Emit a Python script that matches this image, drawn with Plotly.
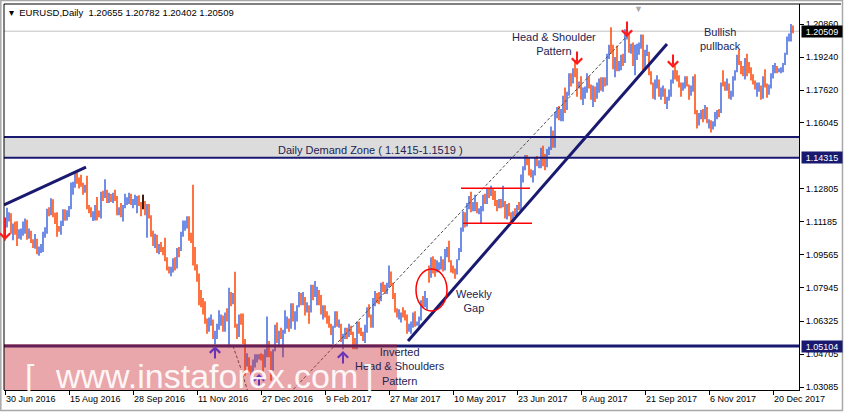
import plotly.graph_objects as go

# EURUSD daily bars, 30 Jun 2016 -> 3 Jan 2018 (one value per trading day)
OPEN = [
    1.1125,
    # Jul 2016
    1.1105, 1.1136, 1.1150, 1.1073, 1.1093, 1.1060, 1.1051, 1.1053, 1.1062, 1.1093, 1.1123, 1.1041, 1.1066, 1.1022, 1.1003, 1.1024, 1.0975, 1.0990, 1.0995, 1.1058, 1.1074,
    # Aug 2016
    1.1174, 1.1160, 1.1225, 1.1150, 1.1130, 1.1085, 1.1080, 1.1110, 1.1175, 1.1135, 1.1160, 1.1185, 1.1290, 1.1295, 1.1355, 1.1325, 1.1320, 1.1305, 1.1265, 1.1285, 1.1195, 1.1185, 1.1145,
    # Sep 2016
    1.1155, 1.1195, 1.1155, 1.1150, 1.1255, 1.1240, 1.1260, 1.1230, 1.1240, 1.1215, 1.1245, 1.1240, 1.1155, 1.1170, 1.1155, 1.1190, 1.1210, 1.1225, 1.1250, 1.1210, 1.1215, 1.1220,
    # Oct 2016
    1.1240, 1.1210, 1.1205, 1.1205, 1.1155, 1.1200, 1.1145, 1.1055, 1.1005, 1.1045, 1.0970, 1.1000, 1.0980, 1.0975, 1.0930, 1.0885, 1.0875, 1.0880, 1.0920, 1.0895, 1.0985,
    # Nov 2016
    1.0980, 1.1055, 1.1100, 1.1105, 1.1140, 1.1045, 1.1025, 1.0910, 1.0895, 1.0855, 1.0735, 1.0720, 1.0690, 1.0630, 1.0590, 1.0625, 1.0630, 1.0550, 1.0560, 1.0590, 1.0615, 1.0650,
    # Dec 2016
    1.0585, 1.0670, 1.0665, 1.0765, 1.0720, 1.0760, 1.0615, 1.0560, 1.0630, 1.0625, 1.0535, 1.0420, 1.0450, 1.0400, 1.0385, 1.0430, 1.0435, 1.0450, 1.0460, 1.0455, 1.0415, 1.0490,
    # Jan 2017
    1.0520, 1.0460, 1.0405, 1.0490, 1.0605, 1.0530, 1.0570, 1.0555, 1.0580, 1.0615, 1.0645, 1.0600, 1.0715, 1.0630, 1.0660, 1.0705, 1.0755, 1.0730, 1.0745, 1.0685, 1.0700, 1.0695,
    # Feb 2017
    1.0800, 1.0765, 1.0780, 1.0785, 1.0750, 1.0680, 1.0700, 1.0665, 1.0640, 1.0600, 1.0575, 1.0605, 1.0675, 1.0610, 1.0615, 1.0540, 1.0560, 1.0590, 1.0560, 1.0605,
    # Mar 2017
    1.0575, 1.0545, 1.0505, 1.0620, 1.0585, 1.0570, 1.0545, 1.0580, 1.0670, 1.0655, 1.0605, 1.0735, 1.0765, 1.0745, 1.0740, 1.0810, 1.0795, 1.0785, 1.0800, 1.0865, 1.0815, 1.0765, 1.0680,
    # Apr 2017
    1.0650, 1.0665, 1.0670, 1.0665, 1.0645, 1.0590, 1.0600, 1.0610, 1.0665, 1.0615, 1.0620, 1.0645, 1.0730, 1.0715, 1.0720, 1.0900, 1.0855, 1.0930, 1.0880, 1.0875,
    # May 2017
    1.0895, 1.0905, 1.0930, 1.0885, 1.0980, 1.1020, 1.0925, 1.0875, 1.0870, 1.0865, 1.0935, 1.0980, 1.1085, 1.1160, 1.1100, 1.1205, 1.1240, 1.1180, 1.1185, 1.1210, 1.1160, 1.1165, 1.1185,
    # Jun 2017
    1.1240, 1.1215, 1.1280, 1.1255, 1.1275, 1.1260, 1.1210, 1.1195, 1.1215, 1.1210, 1.1215, 1.1150, 1.1200, 1.1150, 1.1130, 1.1165, 1.1150, 1.1195, 1.1185, 1.1335, 1.1375, 1.1440,
    # Jul 2017
    1.1425, 1.1365, 1.1350, 1.1355, 1.1425, 1.1395, 1.1400, 1.1465, 1.1410, 1.1395, 1.1470, 1.1480, 1.1555, 1.1515, 1.1635, 1.1665, 1.1640, 1.1645, 1.1730, 1.1675, 1.1750,
    # Aug 2017
    1.1840, 1.1800, 1.1860, 1.1850, 1.1775, 1.1790, 1.1750, 1.1760, 1.1765, 1.1820, 1.1780, 1.1735, 1.1770, 1.1725, 1.1760, 1.1815, 1.1760, 1.1810, 1.1800, 1.1925, 1.1980, 1.1975, 1.1885,
    # Sep 2017
    1.1910, 1.1860, 1.1885, 1.1920, 1.1915, 1.2025, 1.2035, 1.1955, 1.1965, 1.1890, 1.1920, 1.1945, 1.1985, 1.1995, 1.1895, 1.1940, 1.1950, 1.1845, 1.1795, 1.1740, 1.1785,
    # Oct 2017
    1.1810, 1.1735, 1.1740, 1.1765, 1.1710, 1.1730, 1.1735, 1.1810, 1.1855, 1.1825, 1.1820, 1.1795, 1.1765, 1.1790, 1.1815, 1.1785, 1.1755, 1.1760, 1.1815, 1.1655, 1.1605, 1.1635,
    # Nov 2017
    1.1645, 1.1620, 1.1655, 1.1605, 1.1610, 1.1585, 1.1590, 1.1640, 1.1670, 1.1665, 1.1795, 1.1790, 1.1770, 1.1790, 1.1730, 1.1735, 1.1820, 1.1855, 1.1930, 1.1895, 1.1850, 1.1845,
    # Dec 2017
    1.1905, 1.1895, 1.1865, 1.1825, 1.1795, 1.1765, 1.1770, 1.1775, 1.1745, 1.1825, 1.1780, 1.1745, 1.1780, 1.1835, 1.1870, 1.1875, 1.1855, 1.1855, 1.1860, 1.1890, 1.1940,
    # Jan 2018
    1.2005, 1.2010, 1.20655,
]

HIGH = [
    1.1133,
    1.1187, 1.1165, 1.1160, 1.1110, 1.1120, 1.1121, 1.1082, 1.1085, 1.1120, 1.1135, 1.1128, 1.1085, 1.1075, 1.1033, 1.1058, 1.1035, 1.0998, 1.1010, 1.1070, 1.1092, 1.1182,
    1.1190, 1.1234, 1.1228, 1.1162, 1.1165, 1.1098, 1.1123, 1.1180, 1.1180, 1.1175, 1.1195, 1.1310, 1.1314, 1.1366, 1.1360, 1.1335, 1.1348, 1.1309, 1.1300, 1.1343, 1.1200, 1.1190, 1.1170,
    1.1200, 1.1240, 1.1174, 1.1265, 1.1270, 1.1327, 1.1275, 1.1260, 1.1254, 1.1260, 1.1275, 1.1245, 1.1190, 1.1210, 1.1200, 1.1255, 1.1238, 1.1260, 1.1255, 1.1230, 1.1250, 1.1245,
    1.1248, 1.1215, 1.1250, 1.1220, 1.1205, 1.1205, 1.1150, 1.1075, 1.1060, 1.1055, 1.1010, 1.1020, 1.0995, 1.1040, 1.0945, 1.0900, 1.0898, 1.0940, 1.0945, 1.0990, 1.0995,
    1.1070, 1.1125, 1.1125, 1.1145, 1.1145, 1.1065, 1.1300, 1.0995, 1.0910, 1.0865, 1.0785, 1.0745, 1.0730, 1.0645, 1.0650, 1.0665, 1.0640, 1.0585, 1.0620, 1.0685, 1.0665, 1.0660,
    1.0675, 1.0695, 1.0796, 1.0775, 1.0770, 1.0874, 1.0620, 1.0665, 1.0670, 1.0670, 1.0545, 1.0475, 1.0455, 1.0415, 1.0445, 1.0470, 1.0470, 1.0470, 1.0475, 1.0470, 1.0495, 1.0655,
    1.0535, 1.0485, 1.0495, 1.0615, 1.0625, 1.0585, 1.0600, 1.0590, 1.0685, 1.0655, 1.0645, 1.0720, 1.0720, 1.0680, 1.0710, 1.0775, 1.0770, 1.0775, 1.0750, 1.0725, 1.0710, 1.0810,
    1.0810, 1.0829, 1.0800, 1.0785, 1.0760, 1.0710, 1.0710, 1.0680, 1.0660, 1.0620, 1.0610, 1.0680, 1.0680, 1.0640, 1.0620, 1.0570, 1.0600, 1.0600, 1.0620, 1.0610,
    1.0580, 1.0550, 1.0630, 1.0630, 1.0600, 1.0580, 1.0615, 1.0700, 1.0715, 1.0665, 1.0745, 1.0780, 1.0770, 1.0775, 1.0820, 1.0825, 1.0810, 1.0820, 1.0905, 1.0875, 1.0820, 1.0770, 1.0695,
    1.0690, 1.0675, 1.0700, 1.0685, 1.0665, 1.0620, 1.0630, 1.0675, 1.0680, 1.0630, 1.0655, 1.0735, 1.0755, 1.0780, 1.0745, 1.0905, 1.0945, 1.0950, 1.0935, 1.0930,
    1.0920, 1.0950, 1.0935, 1.0985, 1.0995, 1.1025, 1.0930, 1.0905, 1.0890, 1.0935, 1.0990, 1.1090, 1.1170, 1.1165, 1.1210, 1.1245, 1.1265, 1.1215, 1.1250, 1.1215, 1.1185, 1.1195, 1.1250,
    1.1255, 1.1285, 1.1285, 1.1295, 1.1280, 1.1270, 1.1225, 1.1230, 1.1230, 1.1295, 1.1220, 1.1205, 1.1210, 1.1165, 1.1170, 1.1185, 1.1200, 1.1215, 1.1350, 1.1390, 1.1445, 1.1445,
    1.1430, 1.1375, 1.1370, 1.1435, 1.1440, 1.1420, 1.1480, 1.1490, 1.1450, 1.1475, 1.1485, 1.1585, 1.1565, 1.1655, 1.1680, 1.1685, 1.1670, 1.1735, 1.1775, 1.1755, 1.1845,
    1.1845, 1.1870, 1.1910, 1.1870, 1.1805, 1.1830, 1.1775, 1.1780, 1.1845, 1.1830, 1.1790, 1.1785, 1.1780, 1.1800, 1.1820, 1.1825, 1.1825, 1.1825, 1.1940, 1.1985, 1.2070, 1.1985, 1.1925,
    1.1980, 1.1905, 1.1935, 1.1940, 1.2060, 1.2092, 1.2035, 1.1990, 1.1995, 1.1985, 1.1990, 1.1995, 1.2035, 1.2035, 1.1960, 1.1985, 1.1950, 1.1855, 1.1800, 1.1815, 1.1835,
    1.1815, 1.1775, 1.1785, 1.1770, 1.1730, 1.1765, 1.1815, 1.1860, 1.1880, 1.1860, 1.1835, 1.1800, 1.1800, 1.1830, 1.1830, 1.1790, 1.1785, 1.1830, 1.1840, 1.1665, 1.1650, 1.1665,
    1.1670, 1.1690, 1.1680, 1.1620, 1.1615, 1.1610, 1.1655, 1.1665, 1.1670, 1.1800, 1.1860, 1.1805, 1.1820, 1.1795, 1.1760, 1.1830, 1.1860, 1.1935, 1.1960, 1.1905, 1.1880, 1.1920,
    1.1940, 1.1900, 1.1875, 1.1840, 1.1810, 1.1800, 1.1800, 1.1785, 1.1830, 1.1865, 1.1795, 1.1790, 1.1845, 1.1885, 1.1895, 1.1880, 1.1870, 1.1875, 1.1895, 1.1945, 1.2025,
    1.2040, 1.2086, 1.20782,
]

LOW = [
    1.1026,
    1.1090, 1.1120, 1.1060, 1.1028, 1.1055, 1.1000, 1.1035, 1.1030, 1.1050, 1.1060, 1.1030, 1.1035, 1.1015, 1.0990, 1.0987, 1.0960, 1.0952, 1.0965, 1.0970, 1.1040, 1.1060,
    1.1145, 1.1150, 1.1140, 1.1108, 1.1045, 1.1070, 1.1055, 1.1098, 1.1123, 1.1125, 1.1142, 1.1180, 1.1250, 1.1285, 1.1305, 1.1281, 1.1290, 1.1250, 1.1260, 1.1180, 1.1160, 1.1140, 1.1122,
    1.1125, 1.1125, 1.1140, 1.1135, 1.1220, 1.1235, 1.1210, 1.1210, 1.1215, 1.1210, 1.1220, 1.1150, 1.1150, 1.1140, 1.1120, 1.1185, 1.1200, 1.1205, 1.1200, 1.1185, 1.1200, 1.1160,
    1.1195, 1.1145, 1.1180, 1.1150, 1.1040, 1.1135, 1.1045, 1.1000, 1.0990, 1.0965, 1.0960, 1.0970, 1.0955, 1.0925, 1.0880, 1.0865, 1.0852, 1.0870, 1.0880, 1.0890, 1.0945,
    1.0975, 1.1045, 1.1075, 1.1085, 1.1025, 1.1015, 1.0905, 1.0880, 1.0825, 1.0710, 1.0700, 1.0665, 1.0620, 1.0570, 1.0580, 1.0610, 1.0545, 1.0518, 1.0545, 1.0590, 1.0610, 1.0580,
    1.0580, 1.0630, 1.0505, 1.0705, 1.0715, 1.0600, 1.0545, 1.0555, 1.0615, 1.0520, 1.0365, 1.0410, 1.0385, 1.0352, 1.0370, 1.0405, 1.0430, 1.0445, 1.0440, 1.0375, 1.0405, 1.0455,
    1.0455, 1.0340, 1.0390, 1.0485, 1.0525, 1.0515, 1.0545, 1.0455, 1.0570, 1.0595, 1.0580, 1.0595, 1.0630, 1.0590, 1.0630, 1.0700, 1.0710, 1.0710, 1.0660, 1.0675, 1.0620, 1.0675,
    1.0735, 1.0750, 1.0710, 1.0710, 1.0665, 1.0640, 1.0650, 1.0620, 1.0600, 1.0565, 1.0520, 1.0600, 1.0605, 1.0600, 1.0530, 1.0495, 1.0545, 1.0545, 1.0555, 1.0565,
    1.0495, 1.0495, 1.0495, 1.0570, 1.0560, 1.0535, 1.0525, 1.0575, 1.0650, 1.0600, 1.0600, 1.0705, 1.0720, 1.0715, 1.0730, 1.0775, 1.0765, 1.0765, 1.0795, 1.0805, 1.0740, 1.0675, 1.0650,
    1.0640, 1.0625, 1.0650, 1.0635, 1.0570, 1.0580, 1.0570, 1.0600, 1.0605, 1.0610, 1.0605, 1.0635, 1.0695, 1.0700, 1.0685, 1.0820, 1.0845, 1.0865, 1.0850, 1.0870,
    1.0880, 1.0885, 1.0875, 1.0880, 1.0945, 1.0920, 1.0870, 1.0865, 1.0840, 1.0860, 1.0930, 1.0970, 1.1070, 1.1090, 1.1095, 1.1180, 1.1165, 1.1170, 1.1170, 1.1160, 1.1155, 1.1110, 1.1170,
    1.1205, 1.1205, 1.1235, 1.1245, 1.1225, 1.1195, 1.1170, 1.1185, 1.1185, 1.1190, 1.1135, 1.1130, 1.1145, 1.1120, 1.1120, 1.1145, 1.1145, 1.1175, 1.1175, 1.1310, 1.1370, 1.1395,
    1.1345, 1.1335, 1.1310, 1.1345, 1.1390, 1.1380, 1.1380, 1.1390, 1.1370, 1.1385, 1.1445, 1.1470, 1.1480, 1.1480, 1.1625, 1.1615, 1.1610, 1.1610, 1.1650, 1.1665, 1.1735,
    1.1780, 1.1795, 1.1825, 1.1730, 1.1770, 1.1715, 1.1690, 1.1720, 1.1750, 1.1770, 1.1715, 1.1680, 1.1705, 1.1720, 1.1750, 1.1760, 1.1755, 1.1780, 1.1785, 1.1915, 1.1940, 1.1865, 1.1825,
    1.1855, 1.1855, 1.1860, 1.1880, 1.1895, 1.2010, 1.1945, 1.1940, 1.1880, 1.1835, 1.1910, 1.1935, 1.1965, 1.1860, 1.1860, 1.1930, 1.1835, 1.1790, 1.1720, 1.1715, 1.1770,
    1.1730, 1.1715, 1.1730, 1.1695, 1.1670, 1.1710, 1.1730, 1.1795, 1.1815, 1.1805, 1.1775, 1.1730, 1.1760, 1.1770, 1.1780, 1.1715, 1.1735, 1.1755, 1.1645, 1.1575, 1.1590, 1.1620,
    1.1605, 1.1620, 1.1600, 1.1575, 1.1555, 1.1570, 1.1585, 1.1620, 1.1630, 1.1650, 1.1780, 1.1760, 1.1760, 1.1720, 1.1715, 1.1730, 1.1810, 1.1850, 1.1885, 1.1840, 1.1830, 1.1815,
    1.1830, 1.1845, 1.1810, 1.1790, 1.1765, 1.1730, 1.1755, 1.1715, 1.1720, 1.1775, 1.1725, 1.1740, 1.1770, 1.1820, 1.1845, 1.1845, 1.1850, 1.1845, 1.1850, 1.1885, 1.1935,
    1.2000, 1.2000, 1.20402,
]

CLOSE = [
    1.1105,
    1.1136, 1.1150, 1.1073, 1.1093, 1.1060, 1.1051, 1.1053, 1.1062, 1.1093, 1.1123, 1.1041, 1.1066, 1.1022, 1.1003, 1.1024, 1.0975, 1.0990, 1.0995, 1.1058, 1.1074, 1.1174,
    1.1160, 1.1225, 1.1150, 1.1130, 1.1085, 1.1080, 1.1110, 1.1175, 1.1135, 1.1160, 1.1185, 1.1290, 1.1295, 1.1355, 1.1325, 1.1320, 1.1305, 1.1265, 1.1285, 1.1195, 1.1185, 1.1145, 1.1155,
    1.1195, 1.1155, 1.1150, 1.1255, 1.1240, 1.1260, 1.1230, 1.1240, 1.1215, 1.1245, 1.1240, 1.1155, 1.1170, 1.1155, 1.1190, 1.1210, 1.1225, 1.1250, 1.1210, 1.1215, 1.1220, 1.1240,
    1.1210, 1.1205, 1.1205, 1.1155, 1.1200, 1.1145, 1.1055, 1.1005, 1.1045, 1.0970, 1.1000, 1.0975, 1.0975, 1.0930, 1.0885, 1.0880, 1.0880, 1.0920, 1.0895, 1.0985, 1.0980,
    1.1055, 1.1100, 1.1105, 1.1140, 1.1045, 1.1025, 1.0910, 1.0895, 1.0855, 1.0735, 1.0720, 1.0690, 1.0630, 1.0590, 1.0625, 1.0630, 1.0550, 1.0560, 1.0590, 1.0615, 1.0650, 1.0585,
    1.0665, 1.0665, 1.0765, 1.0720, 1.0760, 1.0615, 1.0560, 1.0630, 1.0625, 1.0535, 1.0420, 1.0450, 1.0400, 1.0385, 1.0430, 1.0435, 1.0455, 1.0455, 1.0455, 1.0415, 1.0490, 1.0520,
    1.0460, 1.0405, 1.0490, 1.0605, 1.0530, 1.0570, 1.0555, 1.0580, 1.0615, 1.0645, 1.0600, 1.0715, 1.0630, 1.0660, 1.0705, 1.0755, 1.0730, 1.0745, 1.0685, 1.0695, 1.0695, 1.0800,
    1.0765, 1.0785, 1.0785, 1.0750, 1.0680, 1.0700, 1.0665, 1.0640, 1.0600, 1.0575, 1.0605, 1.0675, 1.0615, 1.0615, 1.0540, 1.0560, 1.0590, 1.0560, 1.0605, 1.0575,
    1.0545, 1.0505, 1.0620, 1.0585, 1.0570, 1.0545, 1.0580, 1.0670, 1.0655, 1.0605, 1.0735, 1.0765, 1.0740, 1.0740, 1.0810, 1.0795, 1.0785, 1.0800, 1.0865, 1.0815, 1.0765, 1.0680, 1.0650,
    1.0665, 1.0670, 1.0665, 1.0645, 1.0590, 1.0600, 1.0610, 1.0665, 1.0615, 1.0620, 1.0645, 1.0730, 1.0715, 1.0720, 1.0725, 1.0855, 1.0930, 1.0875, 1.0875, 1.0895,
    1.0905, 1.0930, 1.0885, 1.0980, 1.0995, 1.0925, 1.0875, 1.0870, 1.0865, 1.0935, 1.0980, 1.1085, 1.1160, 1.1100, 1.1205, 1.1240, 1.1180, 1.1185, 1.1210, 1.1165, 1.1165, 1.1185, 1.1240,
    1.1215, 1.1280, 1.1255, 1.1275, 1.1260, 1.1210, 1.1195, 1.1215, 1.1210, 1.1215, 1.1150, 1.1200, 1.1150, 1.1130, 1.1165, 1.1150, 1.1195, 1.1185, 1.1335, 1.1375, 1.1440, 1.1425,
    1.1365, 1.1350, 1.1355, 1.1425, 1.1400, 1.1400, 1.1465, 1.1410, 1.1395, 1.1470, 1.1480, 1.1555, 1.1515, 1.1635, 1.1665, 1.1640, 1.1645, 1.1730, 1.1675, 1.1750, 1.1840,
    1.1800, 1.1860, 1.1850, 1.1775, 1.1790, 1.1750, 1.1765, 1.1765, 1.1820, 1.1780, 1.1735, 1.1770, 1.1725, 1.1760, 1.1815, 1.1760, 1.1810, 1.1800, 1.1925, 1.1980, 1.1975, 1.1885, 1.1910,
    1.1860, 1.1885, 1.1920, 1.1915, 1.2025, 1.2035, 1.1955, 1.1965, 1.1890, 1.1920, 1.1945, 1.1985, 1.1995, 1.1895, 1.1940, 1.1950, 1.1845, 1.1795, 1.1740, 1.1785, 1.1810,
    1.1735, 1.1740, 1.1765, 1.1710, 1.1730, 1.1735, 1.1810, 1.1855, 1.1820, 1.1820, 1.1795, 1.1765, 1.1790, 1.1815, 1.1785, 1.1755, 1.1760, 1.1815, 1.1655, 1.1605, 1.1635, 1.1645,
    1.1620, 1.1655, 1.1610, 1.1610, 1.1590, 1.1590, 1.1640, 1.1665, 1.1665, 1.1795, 1.1790, 1.1770, 1.1790, 1.1735, 1.1735, 1.1820, 1.1855, 1.1930, 1.1895, 1.1845, 1.1845, 1.1905,
    1.1895, 1.1865, 1.1825, 1.1795, 1.1770, 1.1770, 1.1775, 1.1745, 1.1825, 1.1780, 1.1745, 1.1780, 1.1835, 1.1875, 1.1875, 1.1855, 1.1860, 1.1860, 1.1890, 1.1940, 1.2005,
    1.2010, 1.2060, 1.20509,
]

assert len(OPEN) == len(HIGH) == len(LOW) == len(CLOSE) == 395

# time axis: one label every 32 bars
TICK_BARS = [0, 32, 64, 96, 128, 160, 192, 224, 256, 288, 320, 352, 384]
TICK_LABELS = ["30 Jun 2016", "15 Aug 2016", "28 Sep 2016", "11 Nov 2016", "27 Dec 2016",
               "9 Feb 2017", "27 Mar 2017", "10 May 2017", "23 Jun 2017", "8 Aug 2017",
               "21 Sep 2017", "6 Nov 2017", "20 Dec 2017"]

PRICE_TICKS = [1.03085, 1.04705, 1.06325, 1.07945, 1.09565, 1.11185, 1.12805,
               1.16045, 1.17620, 1.19240, 1.20860]
PRICE_RANGE = [1.02953, 1.21839]
BAR_RANGE = [-0.5, 397.0]

# horizontal levels
BID = 1.20509
DEMAND_LOW = 1.14315
DEMAND_HIGH = 1.15331
SUPPORT = 1.05104

# drawn objects (bar number, price)
TREND_LEFT_X, TREND_LEFT_Y = [-0.5, 40.5], [1.12004, 1.13863]
CHANNEL_X, CHANNEL_Y = [201.5, 331.0], [1.05351, 1.19881]
DOTTED_X, DOTTED_Y = [142.5, 311.5], [1.02806, 1.20322]
HEAD_X, HEAD_Y = [114.0, 117.5, 121.5], [1.05104, 1.04127, 1.02855]
RANGE_TOP_X, RANGE_TOP_Y = [228.0, 262.5], [1.12821, 1.12821]
RANGE_BOT_X, RANGE_BOT_Y = [229.0, 263.5], [1.11108, 1.11108]
GAP_X, GAP_Y = [205.5, 221.0], [1.06818, 1.08873]

SELL_ARROWS = [(0, 1.10292, -24), (286, 1.18854, -15), (311, 1.20224, -17), (334, 1.18707, -15)]
BUY_ARROWS = [(105, 1.05104, 14), (127, 1.03736, 14), (169, 1.04861, 14)]

NOTES = [
    (182.5, 1.14695, "Daily Demand Zone ( 1.1415-1.1519 )"),
    (274.5, 1.19881, "Head & Shoulder<br>Pattern"),
    (357.5, 1.20126, "Bullish<br>pullback"),
    (234.5, 1.07307, "Weekly<br>Gap"),
    (197.5, 1.04127, "Inverted<br>Head & Shoulders<br>Pattern"),
]

NAVY = "#191970"
UP = "#4169E1"
DOWN = "#FF4500"
FONT = "Liberation Sans, Arial, sans-serif"

bars = list(range(len(CLOSE)))

fig = go.Figure()
fig.add_trace(go.Ohlc(
    x=bars, open=OPEN, high=HIGH, low=LOW, close=CLOSE,
    increasing=dict(line=dict(color=UP, width=1.5)),
    decreasing=dict(line=dict(color=DOWN, width=1.5)),
    tickwidth=0, hoverinfo="skip",
))

# doji bars are drawn black
doji = [i for i in bars if OPEN[i] == CLOSE[i]]
fig.add_trace(go.Ohlc(
    x=doji, open=[OPEN[i] for i in doji], high=[HIGH[i] for i in doji],
    low=[LOW[i] for i in doji], close=[CLOSE[i] for i in doji],
    increasing=dict(line=dict(color="black", width=1.5)),
    decreasing=dict(line=dict(color="black", width=1.5)),
    tickwidth=0, hoverinfo="skip",
))


def add_line(xs, ys, color, width, dash=None):
    fig.add_trace(go.Scatter(x=xs, y=ys, mode="lines", hoverinfo="skip",
                             line=dict(color=color, width=width, dash=dash)))


add_line(DOTTED_X, DOTTED_Y, "#4a4a4a", 1, "3px,2px")
add_line(HEAD_X, HEAD_Y, "#4a4a4a", 1, "3px,2px")
add_line(TREND_LEFT_X, TREND_LEFT_Y, NAVY, 3)
add_line(CHANNEL_X, CHANNEL_Y, NAVY, 3)
add_line(RANGE_TOP_X, RANGE_TOP_Y, "#FF0000", 1.5)
add_line(RANGE_BOT_X, RANGE_BOT_Y, "#FF0000", 1.5)

shapes = [
    dict(type="rect", xref="paper", x0=0, x1=1, yref="y", y0=DEMAND_LOW, y1=DEMAND_HIGH,
         fillcolor="#DCDCDC", line_width=0, layer="below"),
    dict(type="line", xref="paper", x0=0, x1=1, yref="y", y0=BID, y1=BID,
         line=dict(color="#C0C0C0", width=1), layer="below"),
    dict(type="line", xref="paper", x0=0, x1=1, yref="y", y0=DEMAND_HIGH, y1=DEMAND_HIGH,
         line=dict(color=NAVY, width=2)),
    dict(type="line", xref="paper", x0=0, x1=1, yref="y", y0=DEMAND_LOW, y1=DEMAND_LOW,
         line=dict(color=NAVY, width=2)),
    dict(type="line", xref="paper", x0=0, x1=1, yref="y", y0=SUPPORT, y1=SUPPORT,
         line=dict(color=NAVY, width=3)),
    dict(type="circle", xref="x", yref="y", x0=GAP_X[0], x1=GAP_X[1], y0=GAP_Y[0], y1=GAP_Y[1],
         line=dict(color="#FF0000", width=1.5)),
    # watermark band
    dict(type="rect", xref="paper", yref="paper", x0=0, x1=0.4943, y0=0, y1=0.1192,
         fillcolor="rgba(205,45,55,0.42)", line_width=0, layer="above"),
    # chart frame
    dict(type="line", xref="paper", yref="paper", x0=0, x1=0, y0=0, y1=1,
         line=dict(color="black", width=1)),
    dict(type="line", xref="paper", yref="paper", x0=0, x1=1.0528, y0=1, y1=1,
         line=dict(color="black", width=1)),
    dict(type="rect", xref="paper", yref="paper", x0=-0.004, x1=1.0547, y0=-0.0531, y1=1.0091,
         line=dict(color="#A8A8A8", width=1.5)),
]

annotations = []
for x, y, txt in NOTES:
    annotations.append(dict(x=x, y=y, xref="x", yref="y", text=txt, showarrow=False,
                            xanchor="center", yanchor="middle",
                            font=dict(family=FONT, size=11, color="#232352")))

for x, y, ay in SELL_ARROWS:
    annotations.append(dict(x=x, y=y, xref="x", yref="y", text="", showarrow=True,
                            ax=0, ay=ay, arrowhead=4, arrowsize=1, arrowwidth=2,
                            arrowcolor="#FF1A1A"))
for x, y, ay in BUY_ARROWS:
    annotations.append(dict(x=x, y=y, xref="x", yref="y", text="", showarrow=True,
                            ax=0, ay=ay, arrowhead=4, arrowsize=1, arrowwidth=2,
                            arrowcolor="#6A35B5"))

# price labels on the right scale
for price, bg in [(BID, "black"), (DEMAND_LOW, NAVY), (SUPPORT, NAVY)]:
    annotations.append(dict(x=1, xref="paper", xanchor="left", xshift=2, y=price, yref="y",
                            text=f"{price:.5f}", showarrow=False, bgcolor=bg,
                            width=38, height=9, borderpad=1,
                            font=dict(family=FONT, size=9, color="white")))

# header line
annotations.append(dict(x=0, xref="paper", xanchor="left", xshift=3, y=0.9767, yref="paper",
                        yanchor="middle", showarrow=False, align="left",
                        text="▾  EURUSD,Daily  1.20655 1.20782 1.20402 1.20509",
                        font=dict(family=FONT, size=9.5, color="black")))

# chart shift marker
annotations.append(dict(x=316.5, xref="x", xanchor="center", y=1, yref="paper", yanchor="top",
                        yshift=2, text="▼", showarrow=False, font=dict(size=9, color="#A9A9A9")))

# watermark text
for xp, txt in [(0.0327, "["), (0.2547, "www.instaforex.com"), (0.459, "]")]:
    annotations.append(dict(x=xp, xref="paper", xanchor="center", y=0.0363, yref="paper",
                            yanchor="middle", text=txt, showarrow=False,
                            font=dict(family=FONT, size=34, color="rgba(255,255,255,0.92)")))

fig.update_layout(
    width=844, height=413,
    margin=dict(l=4, r=45, t=4, b=23),
    paper_bgcolor="white", plot_bgcolor="white",
    showlegend=False, hovermode=False, dragmode=False,
    font=dict(family=FONT, size=9, color="black"),
    shapes=shapes, annotations=annotations,
    xaxis=dict(range=BAR_RANGE, tickvals=TICK_BARS, ticktext=TICK_LABELS,
               ticks="outside", ticklen=4, tickcolor="black", ticklabelposition="outside right",
               showline=True, linecolor="black", linewidth=1, showgrid=False, zeroline=False,
               rangeslider=dict(visible=False), tickfont=dict(size=9), fixedrange=True),
    yaxis=dict(side="right", range=PRICE_RANGE, tickvals=PRICE_TICKS,
               ticktext=[f"{v:.5f}" for v in PRICE_TICKS],
               ticks="outside", ticklen=4, tickcolor="black",
               showline=True, linecolor="black", linewidth=1, showgrid=False, zeroline=False,
               tickfont=dict(size=9), fixedrange=True),
)

fig.write_html("out.html", config={"displayModeBar": False},
               post_script="document.body.style.margin='0';")
